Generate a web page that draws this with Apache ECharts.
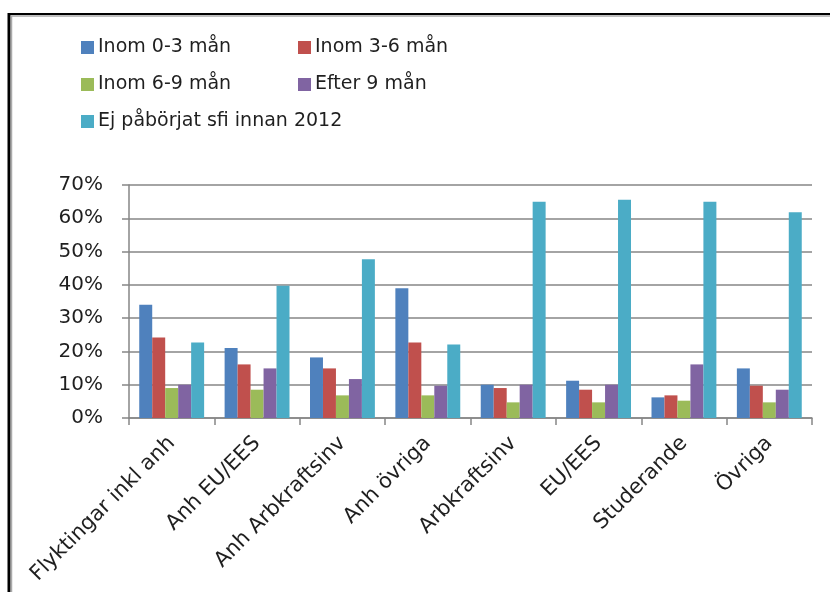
<!DOCTYPE html>
<html>
<head>
<meta charset="utf-8">
<script src="https://cdn.jsdelivr.net/npm/echarts@6/dist/echarts.min.js"></script>
<style>
html,body{margin:0;padding:0;background:#fff;}
#chart{width:830px;height:592px;}
</style>
</head>
<body>
<div id="chart"></div>
<script>
const categories = ['Flyktingar inkl anh','Anh EU/EES','Anh Arbkraftsinv','Anh övriga','Arbkraftsinv','EU/EES','Studerande','Övriga'];
const seriesNames = ['Inom 0-3 mån','Inom 3-6 mån','Inom 6-9 mån','Efter 9 mån','Ej påbörjat sfi innan 2012'];
const inom03 = [34.0, 21.0, 18.2, 39.0, 10.0, 11.2, 6.2, 14.9];
const inom36 = [24.2, 16.1, 14.9, 22.7, 9.0, 8.5, 6.8, 9.7];
const inom69 = [9.0, 8.5, 6.8, 6.8, 4.7, 4.7, 5.2, 4.7];
const efter9 = [10.0, 14.9, 11.7, 9.7, 10.0, 10.0, 16.1, 8.5];
const ejPaborjat = [22.7, 39.7, 47.7, 22.1, 65.0, 65.6, 65.0, 61.8];
const yTicks = [0, 10, 20, 30, 40, 50, 60, 70];

const colors = ['#4F81BD','#C0504D','#9BBB59','#8064A2','#4BACC6'];
const values = [inom03, inom36, inom69, efter9, ejPaborjat];
const font = '"DejaVu Sans", Verdana, sans-serif';

const chart = echarts.init(document.getElementById('chart'));
chart.setOption({
  animation: false,
  backgroundColor: '#fff',
  color: colors,
  graphic: [
    { type: 'line', shape: { x1: 9, y1: 14, x2: 830, y2: 14 }, style: { stroke: '#000', lineWidth: 2 } },
    { type: 'line', shape: { x1: 9, y1: 13, x2: 9, y2: 592 }, style: { stroke: '#000', lineWidth: 3 } },
    { type: 'line', shape: { x1: 11, y1: 16, x2: 830, y2: 16 }, style: { stroke: '#aaa', lineWidth: 1.5 } },
    { type: 'line', shape: { x1: 11.5, y1: 16, x2: 11.5, y2: 592 }, style: { stroke: '#aaa', lineWidth: 1.5 } }
  ],
  legend: {
    left: 76, top: 29, width: 450,
    itemWidth: 13, itemHeight: 13, itemGap: 10,
    icon: 'rect',
    data: seriesNames,
    textStyle: { fontFamily: font, fontSize: 19, color: '#1f1f1f', width: 190, lineHeight: 27, padding: [0,0,0,-1] }
  },
  grid: { left: 129, right: 18, top: 185, bottom: 174 },
  xAxis: {
    type: 'category',
    data: categories,
    axisLine: { lineStyle: { color: '#868686', width: 1.5 } },
    axisTick: { show: true, length: 7, lineStyle: { color: '#868686', width: 1.5 } },
    axisLabel: { rotate: 45, fontFamily: font, fontSize: 21, color: '#1f1f1f', margin: 22, interval: 0 }
  },
  yAxis: {
    type: 'value',
    min: 0, max: 70, interval: 10,
    axisLine: { show: true, lineStyle: { color: '#868686', width: 1.5 } },
    axisTick: { show: true, length: 7, lineStyle: { color: '#868686', width: 1.5 } },
    splitLine: { lineStyle: { color: '#868686', width: 1.5 } },
    axisLabel: { fontFamily: font, fontSize: 20, color: '#1f1f1f', margin: 26, formatter: v => v + '%' }
  },
  series: seriesNames.map((n, i) => ({
    name: n,
    type: 'bar',
    data: values[i],
    barGap: '0%',
    barCategoryGap: '24%',
    itemStyle: { color: colors[i] }
  }))
});
</script>
</body>
</html>
